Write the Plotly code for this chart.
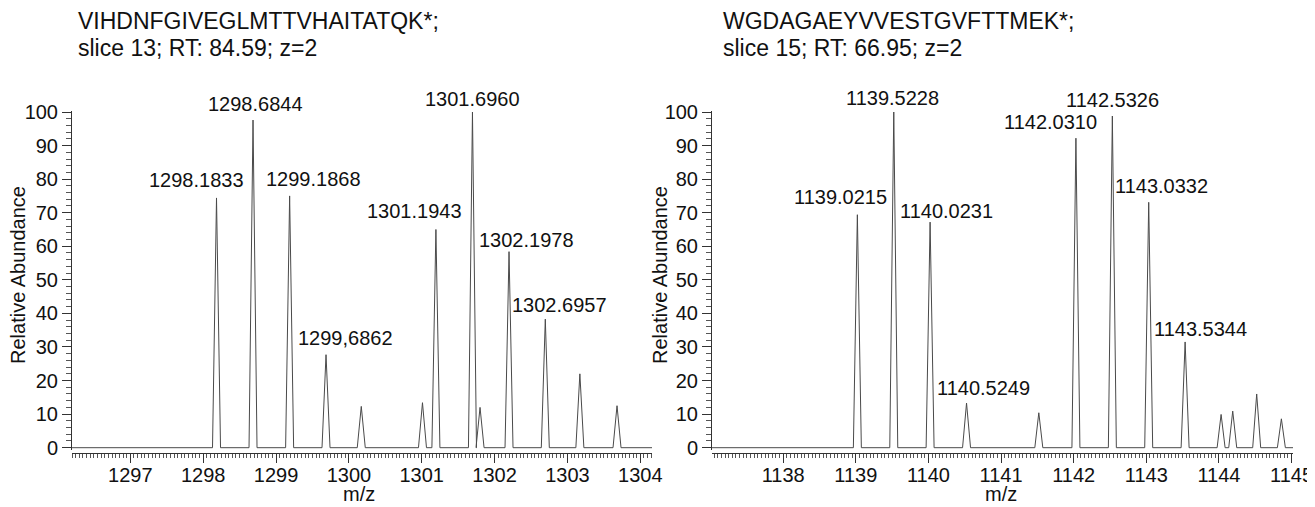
import plotly.graph_objects as go

# page body has an 8px margin; the figure is sized to fill the rest of the window
OFF = 8
W, H = 1315 - OFF, 507 - OFF

# ---------------- data ----------------
left_title = "VIHDNFGIVEGLMTTVHAITATQK*;"
left_subtitle = "slice 13; RT: 84.59; z=2"
left_mz = [1298.1833, 1298.6844, 1299.1868, 1299.6862, 1300.17, 1301.01, 1301.1943,
           1301.6960, 1301.80, 1302.1978, 1302.6957, 1303.17, 1303.68]
left_int = [74.4, 97.6, 75.0, 27.7, 12.3, 13.4, 65.0, 100.0, 12.0, 58.4, 38.3, 22.0, 12.5]
left_labels = ["1298.1833", "1298.6844", "1299.1868", "1299,6862", None, None, "1301.1943",
               "1301.6960", None, "1302.1978", "1302.6957", None, None]
left_xrange = [1296.2, 1304.16]

right_title = "WGDAGAEYVVESTGVFTTMEK*;"
right_subtitle = "slice 15; RT: 66.95; z=2"
right_mz = [1139.0215, 1139.5228, 1140.0231, 1140.5249, 1141.52, 1142.0310, 1142.5326,
            1143.0332, 1143.5344, 1144.03, 1144.19, 1144.52, 1144.86]
right_int = [69.4, 100.0, 67.2, 13.3, 10.4, 92.2, 98.8, 73.1, 31.5, 9.9, 10.9, 16.0, 8.6]
right_labels = ["1139.0215", "1139.5228", "1140.0231", "1140.5249", None, "1142.0310",
                "1142.5326", "1143.0332", "1143.5344", None, None, None, None]
right_xrange = [1137.02, 1145.02]

y_range = [-0.6, 100.4]

# label pixel offsets (style) relative to peak apex
left_label_shift = [(-20, 18), (2, 16), (24, 17), (19, 17), None, None, (-21, 18),
                    (0, 13), None, (17, 12), (14, 14), None, None]
right_label_shift = [(-17, 18), (-1, 14), (16, 11), (17, 15), None, (-25, 16),
                     (0, 16), (13, 16), (15, 13), None, None, None, None]

FONT = "Liberation Sans, Arial, sans-serif"
LINE = "#4a4a4a"
AX = "#333333"
HW = 0.055  # half width of drawn peak profile


def profile(mz, inten, xr):
    xs, ys = [xr[0]], [0]
    for m, h in zip(mz, inten):
        xs += [m - HW, m, m + HW]
        ys += [0, h, 0]
    xs.append(xr[1])
    ys.append(0)
    return xs, ys


fig = go.Figure()
lx, ly = profile(left_mz, left_int, left_xrange)
rx, ry = profile(right_mz, right_int, right_xrange)
fig.add_trace(go.Scatter(x=lx, y=ly, mode="lines", line=dict(color=LINE, width=1),
                         xaxis="x", yaxis="y", showlegend=False, hoverinfo="skip"))
fig.add_trace(go.Scatter(x=rx, y=ry, mode="lines", line=dict(color=LINE, width=1),
                         xaxis="x2", yaxis="y2", showlegend=False, hoverinfo="skip"))


def px_x(p):
    return (p - OFF) / W


def px_y(p):
    return 1 - (p - OFF) / H


ydom = [px_y(449.7), px_y(110.66)]
xpos = px_y(452.7)

xcommon = dict(showline=True, linecolor=AX, linewidth=1, ticks="outside", ticklen=9,
               tickcolor=AX, dtick=1, tick0=0, showgrid=False, zeroline=False,
               tickfont=dict(family=FONT, size=20, color="#111"), automargin=False,
               ticklabelstandoff=-5,
               minor=dict(dtick=0.05, ticklen=4, ticks="outside", tickcolor="#555", showgrid=False),
               anchor="free", position=xpos, fixedrange=True)
ycommon = dict(showline=True, linecolor=AX, linewidth=1, ticks="outside", ticklen=9,
               tickcolor=AX, dtick=10, tick0=0, showgrid=False, zeroline=False,
               range=y_range, domain=ydom, automargin=False,
               tickfont=dict(family=FONT, size=20, color="#111"),
               minor=dict(dtick=2, ticklen=5, ticks="outside", tickcolor="#555", showgrid=False),
               fixedrange=True)

fig.update_layout(
    template="none",
    width=W, height=H,
    margin=dict(l=0, r=0, t=0, b=0, pad=0, autoexpand=False),
    paper_bgcolor="white", plot_bgcolor="white",
    font=dict(family=FONT, color="#111"),
    xaxis=dict(xcommon, domain=[px_x(72), px_x(652)], range=left_xrange),
    yaxis=dict(ycommon, anchor="x"),
    xaxis2=dict(xcommon, domain=[px_x(712), px_x(1293)], range=right_xrange),
    yaxis2=dict(ycommon, anchor="x2"),
    showlegend=False,
)

ann = []
for mz, h, lab, sh, xr, yr in [(m, h, l, s, "x", "y") for m, h, l, s in zip(left_mz, left_int, left_labels, left_label_shift)] + \
        [(m, h, l, s, "x2", "y2") for m, h, l, s in zip(right_mz, right_int, right_labels, right_label_shift)]:
    if lab is None:
        continue
    ann.append(dict(x=mz, y=h, xref=xr, yref=yr, text=lab, showarrow=False,
                    xanchor="center", yanchor="middle", xshift=sh[0], yshift=sh[1],
                    font=dict(family=FONT, size=20, color="#111")))

# titles
for xp, t1, t2 in [(76, left_title, left_subtitle), (721, right_title, right_subtitle)]:
    ann.append(dict(x=px_x(xp), y=px_y(21), xref="paper", yref="paper", text=t1, showarrow=False,
                    xanchor="left", yanchor="middle", font=dict(family=FONT, size=23, color="#111")))
    ann.append(dict(x=px_x(xp), y=px_y(48), xref="paper", yref="paper", text=t2, showarrow=False,
                    xanchor="left", yanchor="middle", font=dict(family=FONT, size=23, color="#111")))

# axis titles
for xp in [18, 660]:
    ann.append(dict(x=px_x(xp), y=px_y(275), xref="paper", yref="paper", text="Relative Abundance",
                    textangle=-90, showarrow=False, xanchor="center", yanchor="middle",
                    font=dict(family=FONT, size=20, color="#111")))
for xp in [359, 1001]:
    ann.append(dict(x=px_x(xp), y=px_y(494), xref="paper", yref="paper", text="m/z",
                    showarrow=False, xanchor="center", yanchor="middle",
                    font=dict(family=FONT, size=20, color="#111")))

fig.update_layout(annotations=ann)
fig.write_html("out.html")
